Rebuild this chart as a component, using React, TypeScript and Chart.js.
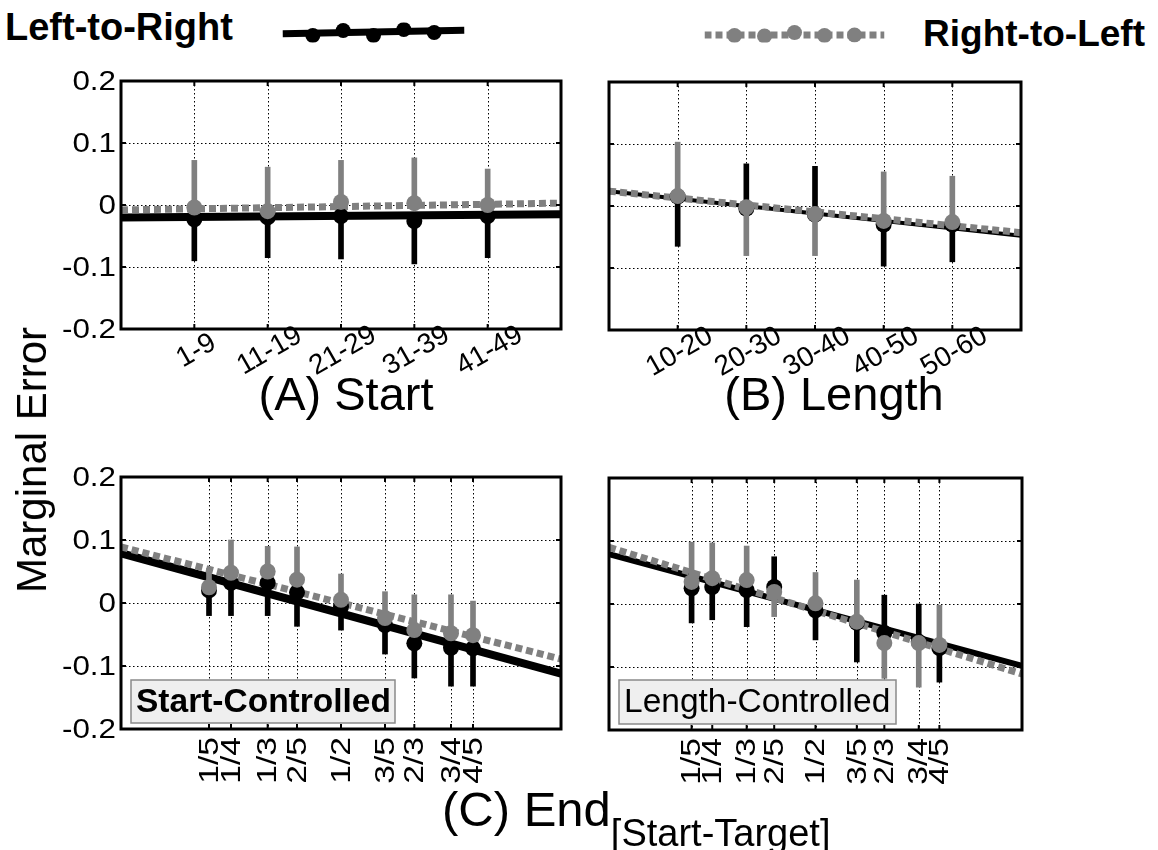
import React, { useEffect, useRef } from "react";
import { Chart, registerables } from "chart.js";

Chart.register(...registerables);

const BLACK = "#000000";
const GRAY = "#808080";
const FONT = "'Liberation Sans', Arial, Helvetica, sans-serif";

// ---------- Panel A: Start ----------
const startLabels = ["1-9", "11-19", "21-29", "31-39", "41-49"];
const startX = [1, 2, 3, 4, 5];
const ltrStart = [-0.023, -0.02, -0.018, -0.026, -0.018];
const rtlStart = [-0.004, -0.01, 0.005, 0.003, 0.0];
const ltrStartLow = [-0.09, -0.085, -0.087, -0.095, -0.085];
const ltrStartHigh = [-0.023, -0.02, -0.018, -0.026, -0.018];
const rtlStartLow = [-0.004, -0.01, 0.005, 0.003, 0.0];
const rtlStartHigh = [0.072, 0.061, 0.072, 0.076, 0.058];
const ltrStartFit = [-0.02, -0.015];
const rtlStartFit = [-0.008, 0.003];

// ---------- Panel B: Length ----------
const lengthLabels = ["10-20", "20-30", "30-40", "40-50", "50-60"];
const lengthX = [1, 2, 3, 4, 5];
const ltrLength = [0.015, -0.004, -0.014, -0.03, -0.03];
const rtlLength = [0.016, -0.002, -0.013, -0.024, -0.026];
const ltrLengthLow = [-0.065, -0.004, -0.014, -0.097, -0.09];
const ltrLengthHigh = [0.015, 0.068, 0.064, -0.03, -0.03];
const rtlLengthLow = [0.016, -0.08, -0.08, -0.024, -0.026];
const rtlLengthHigh = [0.103, -0.002, -0.013, 0.055, 0.048];
const ltrLengthFit = [0.024, -0.048];
const rtlLengthFit = [0.024, -0.043];

// ---------- Panel C: End (fractions) ----------
const endLabels = ["1/5", "1/4", "1/3", "2/5", "1/2", "3/5", "2/3", "3/4", "4/5"];
const endX = [1 / 5, 1 / 4, 1 / 3, 2 / 5, 1 / 2, 3 / 5, 2 / 3, 3 / 4, 4 / 5];

// Start-Controlled
const ltrStartCtl = [0.02, 0.032, 0.032, 0.017, -0.006, -0.035, -0.064, -0.071, -0.072];
const rtlStartCtl = [0.025, 0.048, 0.05, 0.037, 0.005, -0.024, -0.043, -0.048, -0.051];
const ltrStartCtlLow = [-0.02, -0.02, -0.02, -0.037, -0.043, -0.081, -0.119, -0.132, -0.132];
const ltrStartCtlHigh = [0.02, 0.032, 0.032, 0.017, -0.006, -0.035, -0.064, -0.071, -0.072];
const rtlStartCtlLow = [0.025, 0.048, 0.05, 0.037, 0.005, -0.024, -0.043, -0.048, -0.051];
const rtlStartCtlHigh = [0.055, 0.1, 0.09, 0.089, 0.046, 0.018, 0.013, 0.013, 0.003];
const ltrStartCtlFit = [0.079, -0.112];
const rtlStartCtlFit = [0.089, -0.089];

// Length-Controlled
const ltrLengthCtl = [0.025, 0.027, 0.022, 0.027, -0.01, -0.03, -0.046, -0.06, -0.07];
const rtlLengthCtl = [0.035, 0.041, 0.038, 0.019, 0.001, -0.028, -0.062, -0.062, -0.065];
const ltrLengthCtlLow = [-0.03, -0.025, -0.036, 0.027, -0.057, -0.092, -0.046, -0.06, -0.124];
const ltrLengthCtlHigh = [0.025, 0.027, 0.022, 0.075, -0.01, -0.03, 0.014, 0.0, -0.07];
const rtlLengthCtlLow = [0.035, 0.041, 0.038, -0.02, 0.001, -0.028, -0.118, -0.132, -0.065];
const rtlLengthCtlHigh = [0.098, 0.097, 0.092, 0.019, 0.05, 0.038, -0.062, -0.062, -0.002];
const ltrLengthCtlFit = [0.079, -0.098];
const rtlLengthCtlFit = [0.09, -0.111];

const yTicks = [-0.2, -0.1, 0, 0.1, 0.2];
const yTickLabels = ["-0.2", "-0.1", "0", "0.1", "0.2"];

// ---------- Legend glyph samples ----------
const legendX = [1, 2, 3, 4, 5];
const legendLtrPoints = [-0.3, 0.2, -0.3, 0.3, 0.0];
const legendLtrLine = [-0.12, 0.22];
const legendRtlPoints = [-0.3, -0.35, 0.0, -0.3, -0.25];
const legendRtlLine = [-0.25, -0.25];

type PanelCfg = {
  xs: number[];
  xLabels: string[];
  xMin: number;
  xMax: number;
  labelRotation: number;
  showY: boolean;
  ltr: number[];
  rtl: number[];
  ltrLow: number[];
  ltrHigh: number[];
  rtlLow: number[];
  rtlHigh: number[];
  ltrFit: number[];
  rtlFit: number[];
  blackWidth: number;
  box?: { text: string; bold: boolean; size: number; w: number; h: number };
  pad: { left: number; top: number; right: number; bottom: number };
};

function makeFramePlugin(cfg: PanelCfg) {
  return {
    id: "panelFrame",
    beforeDatasetsDraw(chart: any) {
      const { ctx, chartArea: a, scales } = chart;
      const x = scales.x;
      const y = scales.y;
      ctx.save();
      ctx.strokeStyle = "#000";
      ctx.lineWidth = 1;
      ctx.setLineDash([1.5, 2.5]);
      for (const v of cfg.xs) {
        const px = Math.round(x.getPixelForValue(v)) + 0.5;
        ctx.beginPath();
        ctx.moveTo(px, a.top);
        ctx.lineTo(px, a.bottom);
        ctx.stroke();
      }
      for (const v of yTicks) {
        if (v === -0.2 || v === 0.2) continue;
        const py = Math.round(y.getPixelForValue(v)) + 0.5;
        ctx.beginPath();
        ctx.moveTo(a.left, py);
        ctx.lineTo(a.right, py);
        ctx.stroke();
      }
      ctx.restore();
    },
    afterDatasetsDraw(chart: any) {
      const { ctx, chartArea: a, scales } = chart;
      const x = scales.x;
      const y = scales.y;
      ctx.save();
      if (cfg.box) {
        const bx = a.left + 10;
        const by = a.bottom - 6 - cfg.box.h;
        ctx.fillStyle = "#efefef";
        ctx.fillRect(bx, by, cfg.box.w, cfg.box.h);
        ctx.strokeStyle = "#8a8a8a";
        ctx.lineWidth = 1.5;
        ctx.strokeRect(bx, by, cfg.box.w, cfg.box.h);
        ctx.fillStyle = "#000";
        ctx.font = `${cfg.box.bold ? "bold " : ""}${cfg.box.size}px ${FONT}`;
        ctx.textAlign = "left";
        ctx.textBaseline = "middle";
        ctx.fillText(cfg.box.text, bx + 5, by + cfg.box.h / 2 + 1);
      }
      ctx.strokeStyle = "#000";
      ctx.lineWidth = 3;
      ctx.setLineDash([]);
      ctx.strokeRect(a.left, a.top, a.right - a.left, a.bottom - a.top);
      ctx.lineWidth = 2;
      for (const v of cfg.xs) {
        const px = x.getPixelForValue(v);
        ctx.beginPath();
        ctx.moveTo(px, a.bottom);
        ctx.lineTo(px, a.bottom - 5);
        ctx.moveTo(px, a.top);
        ctx.lineTo(px, a.top + 5);
        ctx.stroke();
      }
      for (const v of yTicks) {
        const py = y.getPixelForValue(v);
        ctx.beginPath();
        ctx.moveTo(a.left, py);
        ctx.lineTo(a.left + 5, py);
        ctx.moveTo(a.right, py);
        ctx.lineTo(a.right - 5, py);
        ctx.stroke();
      }
      ctx.fillStyle = "#000";
      if (cfg.showY) {
        ctx.font = `28px ${FONT}`;
        ctx.textAlign = "right";
        ctx.textBaseline = "middle";
        yTicks.forEach((v, i) => {
          ctx.save();
          ctx.translate(a.left - 5, y.getPixelForValue(v) + 1);
          ctx.scale(1.12, 1);
          ctx.fillText(yTickLabels[i], 0, 0);
          ctx.restore();
        });
      }
      cfg.xs.forEach((v, i) => {
        const px = x.getPixelForValue(v);
        ctx.save();
        if (cfg.labelRotation === 90) {
          ctx.font = `28px ${FONT}`;
          ctx.translate(px + 1, a.bottom + 8);
          ctx.rotate(-Math.PI / 2);
          ctx.scale(1.2, 1);
          ctx.textAlign = "right";
          ctx.textBaseline = "middle";
        } else {
          ctx.font = `28px ${FONT}`;
          ctx.translate(px + 2, a.bottom + 22);
          ctx.rotate((-cfg.labelRotation * Math.PI) / 180);
          ctx.textAlign = "center";
          ctx.textBaseline = "middle";
        }
        ctx.fillText(cfg.xLabels[i], 0, 0);
        ctx.restore();
      });
      ctx.restore();
    },
  };
}

function Panel({ cfg, left, top, width, height }: { cfg: PanelCfg; left: number; top: number; width: number; height: number }) {
  const ref = useRef<HTMLCanvasElement | null>(null);
  useEffect(() => {
    if (!ref.current) return;
    const pts = (xs: number[], ys: number[]) => xs.map((xv, i) => ({ x: xv, y: ys[i] }));
    const bars = (xs: number[], lo: number[], hi: number[]) => xs.map((xv, i) => ({ x: xv, y: [lo[i], hi[i]] }));
    const chart = new Chart(ref.current, {
      type: "line",
      data: {
        datasets: [
          {
            type: "line",
            label: "Right-to-Left",
            data: pts(cfg.xs, cfg.rtl),
            showLine: false,
            pointRadius: 8,
            pointBackgroundColor: GRAY,
            pointBorderWidth: 0,
            order: 0,
          },
          {
            type: "bar",
            label: "Right-to-Left error",
            data: bars(cfg.xs, cfg.rtlLow, cfg.rtlHigh),
            backgroundColor: GRAY,
            barThickness: 5,
            grouped: false,
            borderWidth: 0,
            order: 1,
          },
          {
            type: "line",
            label: "Left-to-Right",
            data: pts(cfg.xs, cfg.ltr),
            showLine: false,
            pointRadius: 8,
            pointBackgroundColor: BLACK,
            pointBorderWidth: 0,
            order: 2,
          },
          {
            type: "bar",
            label: "Left-to-Right error",
            data: bars(cfg.xs, cfg.ltrLow, cfg.ltrHigh),
            backgroundColor: BLACK,
            barThickness: 5,
            grouped: false,
            borderWidth: 0,
            order: 3,
          },
          {
            type: "line",
            label: "Right-to-Left fit",
            data: pts([cfg.xMin, cfg.xMax], cfg.rtlFit),
            borderColor: GRAY,
            borderWidth: 7,
            borderDash: [7, 4],
            borderCapStyle: "butt",
            pointRadius: 0,
            clip: 0,
            order: 4,
          },
          {
            type: "line",
            label: "Left-to-Right fit",
            data: pts([cfg.xMin, cfg.xMax], cfg.ltrFit),
            borderColor: BLACK,
            borderWidth: cfg.blackWidth,
            borderCapStyle: "butt",
            pointRadius: 0,
            clip: 0,
            order: 5,
          },
        ] as any,
      },
      options: {
        animation: false,
        responsive: false,
        devicePixelRatio: 1,
        layout: { padding: cfg.pad },
        plugins: { legend: { display: false }, tooltip: { enabled: false } },
        scales: {
          x: { type: "linear", min: cfg.xMin, max: cfg.xMax, display: false, offset: false },
          y: { type: "linear", min: -0.2, max: 0.2, display: false },
        },
      },
      plugins: [makeFramePlugin(cfg) as any],
    });
    return () => chart.destroy();
  }, [cfg]);
  return (
    <canvas
      ref={ref}
      width={width}
      height={height}
      style={{ position: "absolute", left, top, width, height }}
    />
  );
}

function LegendGlyph({ points, line, color, dashed, left, top, width, height }: any) {
  const ref = useRef<HTMLCanvasElement | null>(null);
  useEffect(() => {
    if (!ref.current) return;
    const chart = new Chart(ref.current, {
      type: "line",
      data: {
        datasets: [
          {
            data: legendX.map((xv, i) => ({ x: xv, y: points[i] })),
            showLine: false,
            pointRadius: 7.5,
            pointBackgroundColor: color,
            pointBorderWidth: 0,
            order: 0,
          },
          {
            data: [{ x: 0, y: line[0] }, { x: 6, y: line[1] }],
            borderColor: color,
            borderWidth: 7,
            borderDash: dashed ? [7, 4] : [],
            borderCapStyle: "butt",
            pointRadius: 0,
            order: 1,
          },
        ] as any,
      },
      options: {
        animation: false,
        responsive: false,
        devicePixelRatio: 1,
        layout: { padding: 0 },
        plugins: { legend: { display: false }, tooltip: { enabled: false } },
        scales: {
          x: { type: "linear", min: 0, max: 6, display: false },
          y: { type: "linear", min: -1, max: 1, display: false },
        },
      },
    });
    return () => chart.destroy();
  }, []);
  return <canvas ref={ref} width={width} height={height} style={{ position: "absolute", left, top, width, height }} />;
}

const cfgA: PanelCfg = {
  xs: startX, xLabels: startLabels, xMin: 0, xMax: 6, labelRotation: 30, showY: true,
  ltr: ltrStart, rtl: rtlStart, ltrLow: ltrStartLow, ltrHigh: ltrStartHigh, rtlLow: rtlStartLow, rtlHigh: rtlStartHigh,
  ltrFit: ltrStartFit, rtlFit: rtlStartFit, blackWidth: 8,
  pad: { left: 121, top: 20, right: 30, bottom: 80 },
};
const cfgB: PanelCfg = {
  xs: lengthX, xLabels: lengthLabels, xMin: 0, xMax: 6, labelRotation: 30, showY: false,
  ltr: ltrLength, rtl: rtlLength, ltrLow: ltrLengthLow, ltrHigh: ltrLengthHigh, rtlLow: rtlLengthLow, rtlHigh: rtlLengthHigh,
  ltrFit: ltrLengthFit, rtlFit: rtlLengthFit, blackWidth: 4,
  pad: { left: 40, top: 20, right: 30, bottom: 80 },
};
const cfgC: PanelCfg = {
  xs: endX, xLabels: endLabels, xMin: 0, xMax: 1, labelRotation: 90, showY: true,
  ltr: ltrStartCtl, rtl: rtlStartCtl, ltrLow: ltrStartCtlLow, ltrHigh: ltrStartCtlHigh, rtlLow: rtlStartCtlLow, rtlHigh: rtlStartCtlHigh,
  ltrFit: ltrStartCtlFit, rtlFit: rtlStartCtlFit, blackWidth: 8,
  box: { text: "Start-Controlled", bold: true, size: 33.5, w: 264, h: 43 },
  pad: { left: 121, top: 20, right: 30, bottom: 70 },
};
const cfgD: PanelCfg = {
  xs: endX, xLabels: endLabels, xMin: 0, xMax: 1, labelRotation: 90, showY: false,
  ltr: ltrLengthCtl, rtl: rtlLengthCtl, ltrLow: ltrLengthCtlLow, ltrHigh: ltrLengthCtlHigh, rtlLow: rtlLengthCtlLow, rtlHigh: rtlLengthCtlHigh,
  ltrFit: ltrLengthCtlFit, rtlFit: rtlLengthCtlFit, blackWidth: 6,
  box: { text: "Length-Controlled", bold: false, size: 33.5, w: 277, h: 44 },
  pad: { left: 40, top: 20, right: 30, bottom: 70 },
};

const textBase: React.CSSProperties = {
  position: "absolute",
  fontFamily: FONT,
  color: "#000",
  lineHeight: 1,
  whiteSpace: "nowrap",
};

export default function App() {
  return (
    <div style={{ position: "absolute", left: 0, top: 0, width: 1158, height: 850, background: "#fff", overflow: "hidden" }}>
      <Panel cfg={cfgA} left={0} top={61} width={121 + 440 + 30} height={20 + 248 + 80} />
      <Panel cfg={cfgB} left={569} top={62} width={40 + 412 + 30} height={20 + 248 + 80} />
      <Panel cfg={cfgC} left={0} top={457} width={121 + 440 + 30} height={20 + 252 + 70} />
      <Panel cfg={cfgD} left={569} top={458} width={40 + 413 + 30} height={20 + 252 + 70} />

      <LegendGlyph points={legendLtrPoints} line={legendLtrLine} color={BLACK} dashed={false} left={275} top={15} width={197} height={35} />
      <LegendGlyph points={legendRtlPoints} line={legendRtlLine} color={GRAY} dashed={true} left={697} top={15} width={195} height={35} />

      <div style={{ ...textBase, left: 5, top: 8, fontSize: 38, fontWeight: "bold" }}>Left-to-Right</div>
      <div style={{ ...textBase, right: 13, top: 15, fontSize: 37, fontWeight: "bold" }}>Right-to-Left</div>

      <div
        style={{
          ...textBase,
          left: 32,
          top: 460,
          fontSize: 42,
          transform: "translate(-50%, -50%) rotate(-90deg)",
        }}
      >
        Marginal Error
      </div>

      <div style={{ ...textBase, left: 346, top: 370, fontSize: 47, transform: "translateX(-50%)" }}>(A) Start</div>
      <div style={{ ...textBase, left: 834, top: 370, fontSize: 47, transform: "translateX(-50%)" }}>(B) Length</div>
      <div style={{ ...textBase, left: 442, top: 785, fontSize: 49 }}>
        (C) End
        <span style={{ fontSize: 38, position: "relative", top: 20 }}>[Start-Target]</span>
      </div>
    </div>
  );
}
